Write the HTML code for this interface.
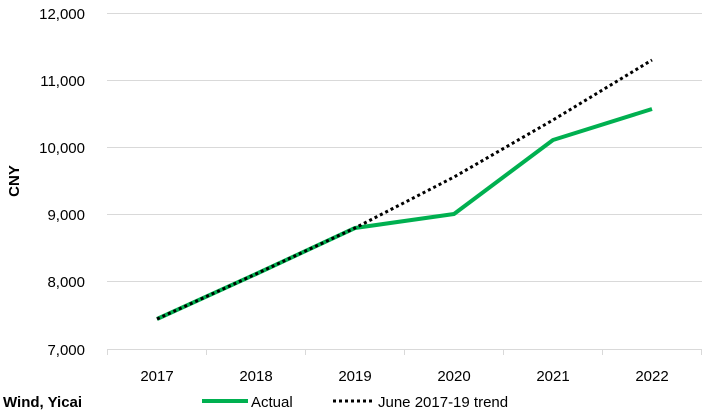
<!DOCTYPE html>
<html><head><style>
body{margin:0;background:#fff;}
svg{display:block;font-family:"Liberation Sans",sans-serif;}
</style></head><body>
<svg width="708" height="416" viewBox="0 0 708 416">
<g stroke="#d9d9d9" stroke-width="1">
<line x1="107" y1="13.5" x2="702" y2="13.5"/>
<line x1="107" y1="80.5" x2="702" y2="80.5"/>
<line x1="107" y1="147.5" x2="702" y2="147.5"/>
<line x1="107" y1="214.5" x2="702" y2="214.5"/>
<line x1="107" y1="281.5" x2="702" y2="281.5"/>
<line x1="107" y1="349.5" x2="702" y2="349.5"/>
<line x1="107.5" y1="349" x2="107.5" y2="355"/>
<line x1="206.5" y1="349" x2="206.5" y2="355"/>
<line x1="305.5" y1="349" x2="305.5" y2="355"/>
<line x1="404.5" y1="349" x2="404.5" y2="355"/>
<line x1="503.5" y1="349" x2="503.5" y2="355"/>
<line x1="602.5" y1="349" x2="602.5" y2="355"/>
<line x1="701.5" y1="349" x2="701.5" y2="355"/>
</g>
<g font-size="15" fill="#000" text-anchor="end">
<text x="85" y="19">12,000</text>
<text x="85" y="86">11,000</text>
<text x="85" y="153">10,000</text>
<text x="85" y="220">9,000</text>
<text x="85" y="287">8,000</text>
<text x="85" y="355">7,000</text>
</g>
<g font-size="15" fill="#000" text-anchor="middle">
<text x="157" y="381">2017</text>
<text x="256" y="381">2018</text>
<text x="355" y="381">2019</text>
<text x="454" y="381">2020</text>
<text x="553" y="381">2021</text>
<text x="652" y="381">2022</text>
</g>
<text x="19" y="181" font-size="15" font-weight="bold" text-anchor="middle" transform="rotate(-90 19 181)">CNY</text>
<polyline points="157,319 256,274 355,228 454,214 553,140 652,109" fill="none" stroke="#00b050" stroke-width="4" stroke-linejoin="round"/>
<polyline points="157,319 256,274 355,228 454,177 553,120 652,60" fill="none" stroke="#000" stroke-width="3" stroke-dasharray="3,3"/>
<text x="3" y="407" font-size="15" font-weight="bold">Wind, Yicai</text>
<line x1="202" y1="401" x2="248" y2="401" stroke="#00b050" stroke-width="4"/>
<text x="251" y="407" font-size="15">Actual</text>
<line x1="333" y1="401" x2="375" y2="401" stroke="#000" stroke-width="3" stroke-dasharray="3,3"/>
<text x="378" y="407" font-size="15">June 2017-19 trend</text>
</svg>
</body></html>
